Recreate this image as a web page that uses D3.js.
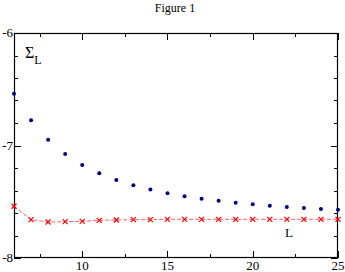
<!DOCTYPE html>
<html><head><meta charset="utf-8">
<script src="https://cdn.jsdelivr.net/npm/d3@7"></script>
<style>body{margin:0;background:#fff}svg{display:block}text{font-family:"Liberation Serif","Times New Roman","DejaVu Serif",serif}</style>
</head><body>
<script>
const xs = [6,7,8,9,10,11,12,13,14,15,16,17,18,19,20,21,22,23,24,25];
const sigmaVals = [-6.539,-6.776,-6.948,-7.075,-7.173,-7.247,-7.306,-7.354,-7.392,-7.425,-7.452,-7.473,-7.490,-7.508,-7.523,-7.535,-7.547,-7.556,-7.564,-7.570];
const limitVals = [-7.540,-7.659,-7.680,-7.677,-7.674,-7.665,-7.662,-7.659,-7.659,-7.656,-7.656,-7.656,-7.656,-7.656,-7.656,-7.656,-7.656,-7.656,-7.656,-7.656];
const xMajor = [10,15,20,25];
const xMinor = [7.5,12.5,17.5,22.5];
const yMajor = [-6,-7,-8];
const yMinor = [-6.2,-6.4,-6.6,-6.8,-7.2,-7.4,-7.6,-7.8];

const W=345,H=272;
const svg=d3.select("body").append("svg").attr("width",W).attr("height",H);
const L=14,R=338,T=33,B=258;
const x=d3.scaleLinear().domain([6,25]).range([L,R]);
const y=d3.scaleLinear().domain([-8,-6]).range([B,T]);

svg.append("text").attr("x",175).attr("y",12).attr("text-anchor","middle").attr("font-size",12).text("Figure 1");

// ticks
const g=svg.append("g").attr("stroke","#000").attr("stroke-width",1);
xMajor.forEach(v=>{const px=Math.round(x(v))+0.5;
  g.append("line").attr("x1",px).attr("x2",px).attr("y1",B).attr("y2",B-7);
  g.append("line").attr("x1",px).attr("x2",px).attr("y1",T).attr("y2",T+7);});
xMinor.forEach(v=>{const px=Math.round(x(v))+0.5;
  g.append("line").attr("x1",px).attr("x2",px).attr("y1",B).attr("y2",B-4);
  g.append("line").attr("x1",px).attr("x2",px).attr("y1",T).attr("y2",T+4);});
yMajor.forEach(v=>{const py=Math.round(y(v))+0.5;
  g.append("line").attr("x1",L).attr("x2",L+7).attr("y1",py).attr("y2",py);
  g.append("line").attr("x1",R).attr("x2",R-7).attr("y1",py).attr("y2",py);});
yMinor.forEach(v=>{const py=Math.round(y(v))+0.5;
  g.append("line").attr("x1",L).attr("x2",L+4).attr("y1",py).attr("y2",py);
  g.append("line").attr("x1",R).attr("x2",R-4).attr("y1",py).attr("y2",py);});

svg.append("rect").attr("x",L+0.5).attr("y",T+0.5).attr("width",R-L-1).attr("height",B-T-1)
  .attr("fill","none").attr("stroke","#000").attr("stroke-width",1.2);

xMajor.forEach(v=>svg.append("text").attr("x",x(v)).attr("y",B+12).attr("text-anchor","middle").attr("font-size",13).text(v));
yMajor.forEach(v=>svg.append("text").attr("x",L-1).attr("y",y(v)+4).attr("text-anchor","end").attr("font-size",13).text(v));

// red dashed line
const line=d3.line().x((d,i)=>x(xs[i])).y(d=>y(d));
svg.append("path").datum(limitVals).attr("d",line).attr("fill","none").attr("stroke","#ff6060").attr("stroke-width",1).attr("stroke-dasharray","4,2");
const cg=svg.append("g").attr("stroke","#ff0000").attr("stroke-width",1.2);
limitVals.forEach((v,i)=>{const cx=x(xs[i]),cy=y(v),s=2.5;
  cg.append("line").attr("x1",cx-s).attr("x2",cx+s).attr("y1",cy-s).attr("y2",cy+s);
  cg.append("line").attr("x1",cx-s).attr("x2",cx+s).attr("y1",cy+s).attr("y2",cy-s);});

svg.append("g").selectAll("circle").data(sigmaVals).join("circle")
  .attr("cx",(d,i)=>x(xs[i])).attr("cy",d=>y(d)).attr("r",2).attr("fill","#000080");

const lab=svg.append("text").attr("x",25).attr("y",58).attr("font-size",16);
lab.append("tspan").text("Σ");
lab.append("tspan").attr("font-size",12).attr("dy",6).text("L");
svg.append("text").attr("x",285).attr("y",237).attr("font-size",13).text("L");
</script>
</body></html>
